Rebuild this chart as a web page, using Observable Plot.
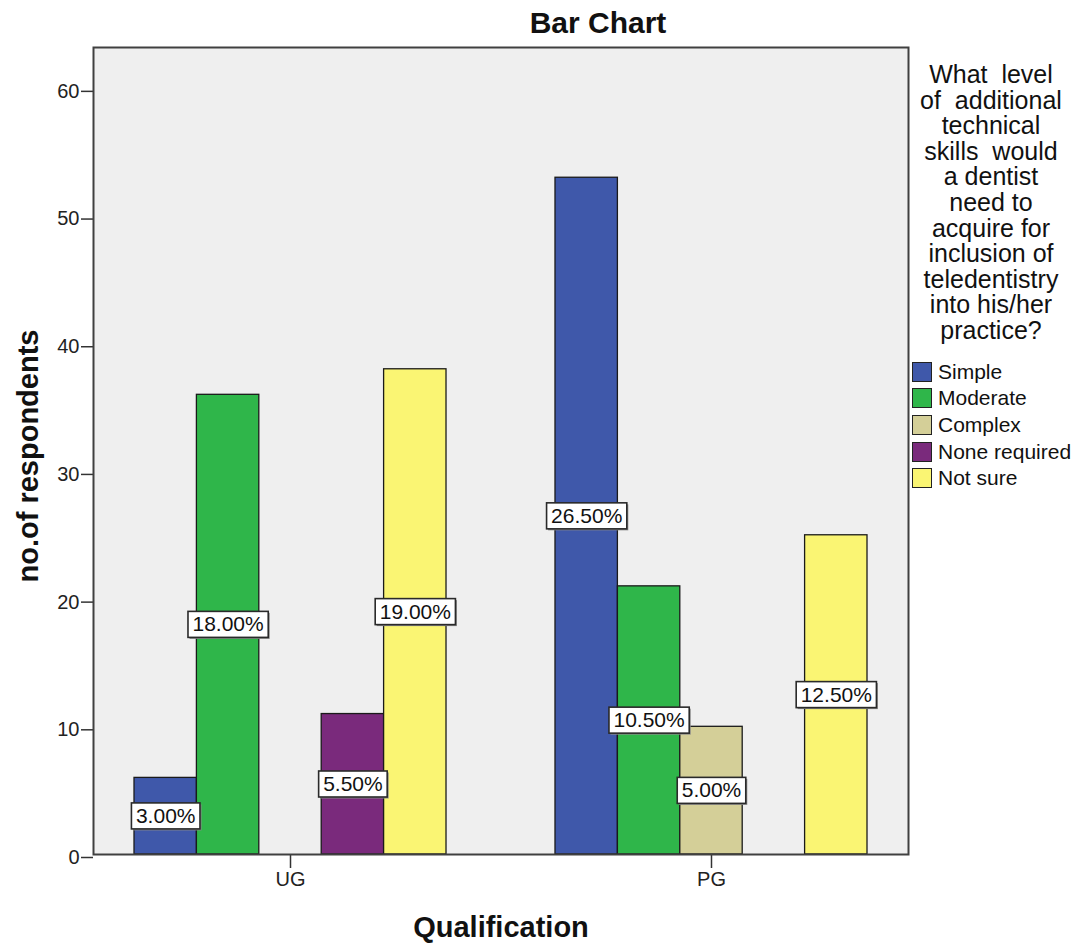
<!DOCTYPE html>
<html>
<head>
<meta charset="utf-8">
<script src="https://cdn.jsdelivr.net/npm/d3@7"></script>
<script src="https://cdn.jsdelivr.net/npm/@observablehq/plot@0.6"></script>
<style>
  html, body { margin: 0; padding: 0; background: #fff; }
  #wrap { position: relative; width: 1076px; height: 944px; font-family: "Liberation Sans", Arial, sans-serif; color: #111; }
  #wrap svg { position: absolute; left: 0; top: 0; }
  #wrap svg g[aria-label="y-axis tick label"], #wrap svg g[aria-label="fx-axis tick label"] { font-size: 20px; }
  .title { position: absolute; top: 8px; left: 598px; transform: translateX(-50%); font-size: 30px; font-weight: bold; line-height: 30px; white-space: nowrap; }
  .xtitle { position: absolute; top: 913px; left: 501px; transform: translateX(-50%); font-size: 29px; font-weight: bold; line-height: 29px; white-space: nowrap; }
  .ytitle { position: absolute; left: 28px; top: 456px; transform: translate(-50%, -50%) rotate(-90deg); font-size: 29px; font-weight: bold; line-height: 29px; white-space: nowrap; }
  .legtitle { position: absolute; left: 906px; top: 62px; width: 170px; text-align: center; font-size: 25px; line-height: 25.6px; color: #111; }
  .legend { position: absolute; left: 912px; top: 358.5px; }
  .legend .row { display: flex; align-items: center; height: 26.6px; font-size: 21px; white-space: nowrap; }
  .legend .sw { width: 20px; height: 20px; box-sizing: border-box; border: 1.5px solid #222; margin-right: 6px; }
</style>
</head>
<body>
<div id="wrap"></div>
<script>
// ---- data ----
const qualifications = ["UG", "PG"];
const levels = ["Simple", "Moderate", "Complex", "None required", "Not sure"];
const ugCounts = [6, 36, 0, 11, 38];
const pgCounts = [53, 21, 10, 0, 25];
const levelColors = ["#3F58AA", "#2FB64A", "#D4CF98", "#7A2A7C", "#FAF573"];
const yTicks = [0, 10, 20, 30, 40, 50, 60];
const legendTitleLines = ["What  level", "of  additional", "technical", "skills  would", "a dentist", "need to", "acquire for", "inclusion of", "teledentistry", "into his/her", "practice?"];
const chartTitle = "Bar Chart";
const xTitle = "Qualification";
const yTitle = "no.of respondents";

const countsByQual = {UG: ugCounts, PG: pgCounts};
const rows = [];
for (const q of qualifications) {
  countsByQual[q].forEach((n, i) => rows.push({q, level: levels[i], n}));
}
const total = d3.sum(rows, d => d.n);
const nonZero = rows.filter(d => d.n > 0);

const chart = Plot.plot({
  width: 1076,
  height: 944,
  marginTop: 47,
  marginBottom: 90,
  marginLeft: 93,
  marginRight: 168,
  style: {fontFamily: "'Liberation Sans', Arial, sans-serif", fontSize: "20px", color: "#222", background: "transparent"},
  fx: {domain: qualifications, paddingInner: 0.0641, paddingOuter: 0, round: false, label: null},
  x: {domain: levels, paddingInner: 0, paddingOuter: 0.657, round: false, axis: null},
  y: {domain: [0, 63.2], axis: null},
  color: {domain: levels, range: levelColors},
  marks: [
    Plot.frame({facet: "super", fill: "#EFEFEF", stroke: null}),
    Plot.barY(nonZero, {fx: "q", x: "level", y: "n", fill: "level", stroke: "#1a1a1a", strokeWidth: 1.3}),
    Plot.text(nonZero, {fx: "q", x: "level", y: d => d.n / 2, text: d => (d.n / total * 100).toFixed(2) + "%", fontSize: 21, fill: "#111"}),
    Plot.axisY({ticks: yTicks, tickSize: 12, tickPadding: 2, label: null, fontSize: 20, stroke: "#333", strokeWidth: 1.5, fill: "#222", dy: 3}),
    Plot.axisFx({anchor: "bottom", tickSize: 14, tickPadding: 3, label: null, fontSize: 20, stroke: "#333", strokeWidth: 1.5, fill: "#222"}),
    Plot.frame({facet: "super", stroke: "#404040", strokeWidth: 2})
  ]
});

const wrap = document.getElementById("wrap");
wrap.appendChild(chart);

// white label boxes behind percentage texts
const svgNS = "http://www.w3.org/2000/svg";
chart.querySelectorAll('g[aria-label="text"] text').forEach(t => {
  const b = t.getBBox();
  const tr = t.getAttribute("transform");
  const mk = (dx, fill, stroke) => {
    const r = document.createElementNS(svgNS, "rect");
    r.setAttribute("x", b.x - 4.5 + dx);
    r.setAttribute("y", b.y - 1 + dx);
    r.setAttribute("width", b.width + 9);
    r.setAttribute("height", b.height + 3);
    r.setAttribute("fill", fill);
    if (stroke) { r.setAttribute("stroke", stroke); r.setAttribute("stroke-width", 1.6); }
    if (tr) r.setAttribute("transform", tr);
    t.parentNode.insertBefore(r, t);
  };
  mk(1.5, "#8a8a8a", null);
  mk(0, "#ffffff", "#2a2a2a");
});

// titles and legend
const addDiv = (cls, html) => { const d = document.createElement("div"); d.className = cls; d.innerHTML = html; wrap.appendChild(d); return d; };
addDiv("title", chartTitle);
addDiv("xtitle", xTitle);
addDiv("ytitle", yTitle);
addDiv("legtitle", legendTitleLines.map(s => s.replace(/  /g, "&nbsp; ")).join("<br>"));
const leg = addDiv("legend", "");
levels.forEach((lv, i) => {
  const r = document.createElement("div");
  r.className = "row";
  r.innerHTML = `<span class="sw" style="background:${levelColors[i]}"></span><span>${lv}</span>`;
  leg.appendChild(r);
});
</script>
</body>
</html>
